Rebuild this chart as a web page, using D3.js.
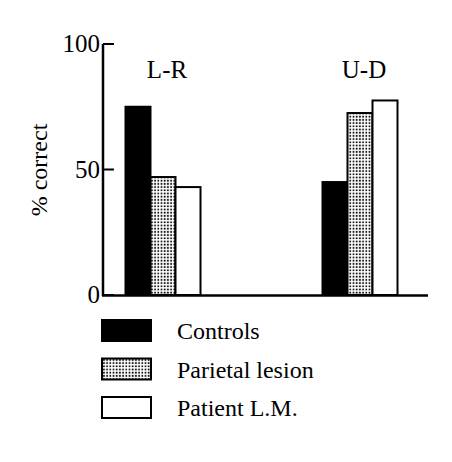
<!DOCTYPE html><html><head><script src="https://cdn.jsdelivr.net/npm/d3@7"></script>
<style>body{margin:0;background:#fff}svg text{font-family:'Liberation Serif','Times New Roman',Times,'DejaVu Serif',serif;fill:#000}</style></head><body>
<script>
const groups=["L-R","U-D"];
const series=["Controls","Parietal lesion","Patient L.M."];
const values={"Controls":[75,45],"Parietal lesion":[47,72.5],"Patient L.M.":[43,77.5]};
const yTicks=[0,50,100];
const FF="'Liberation Serif','Times New Roman',Times,'DejaVu Serif',serif";
const svg=d3.select("body").append("svg").attr("width",452).attr("height",462);
const defs=svg.append("defs");
const p=defs.append("pattern").attr("id","dots").attr("width",3.2).attr("height",3.2).attr("patternUnits","userSpaceOnUse");
p.append("rect").attr("width",3.2).attr("height",3.2).attr("fill","#fff");
p.append("rect").attr("x",0.6).attr("y",0.6).attr("width",1.7).attr("height",1.7).attr("fill","#000");
const fills=["#000","url(#dots)","#fff"];
const y=d3.scaleLinear().domain([0,100]).range([295,44]);
const gx=d3.scaleOrdinal().domain(groups).range([125,322]);
const bw=25;
svg.append("line").attr("x1",103).attr("x2",103).attr("y1",44).attr("y2",296).attr("stroke","#000").attr("stroke-width",2.5);
svg.append("line").attr("x1",102).attr("x2",428).attr("y1",295.5).attr("y2",295.5).attr("stroke","#000").attr("stroke-width",2.5);
yTicks.forEach(t=>{
 svg.append("line").attr("x1",103).attr("x2",114).attr("y1",y(t)).attr("y2",y(t)).attr("stroke","#000").attr("stroke-width",2);
 svg.append("text").attr("font-family",FF).attr("x",100).attr("y",y(t)+8).attr("text-anchor","end").attr("font-size",25).text(t);
});
svg.append("text").attr("font-family",FF).attr("transform","translate(47,170) rotate(-90)").attr("text-anchor","middle").attr("font-size",24).text("% correct");
groups.forEach((g,gi)=>{
 series.forEach((s,si)=>{
  const v=values[s][gi];
  svg.append("rect").attr("x",gx(g)+si*bw+0.5).attr("y",y(v)).attr("width",bw).attr("height",y(0)-y(v))
   .attr("fill",fills[si]).attr("stroke","#000").attr("stroke-width",2);
 });
 svg.append("text").attr("font-family",FF).attr("x",gx(g)+42).attr("y",78).attr("text-anchor","middle").attr("font-size",25).text(g);
});
series.forEach((s,si)=>{
 const yy=320+si*38.5;
 svg.append("rect").attr("x",102).attr("y",yy).attr("width",49).attr("height",21).attr("fill",fills[si]).attr("stroke","#000").attr("stroke-width",2);
 svg.append("text").attr("font-family",FF).attr("x",177).attr("y",yy+19).attr("font-size",24).text(s);
});
</script></body></html>
